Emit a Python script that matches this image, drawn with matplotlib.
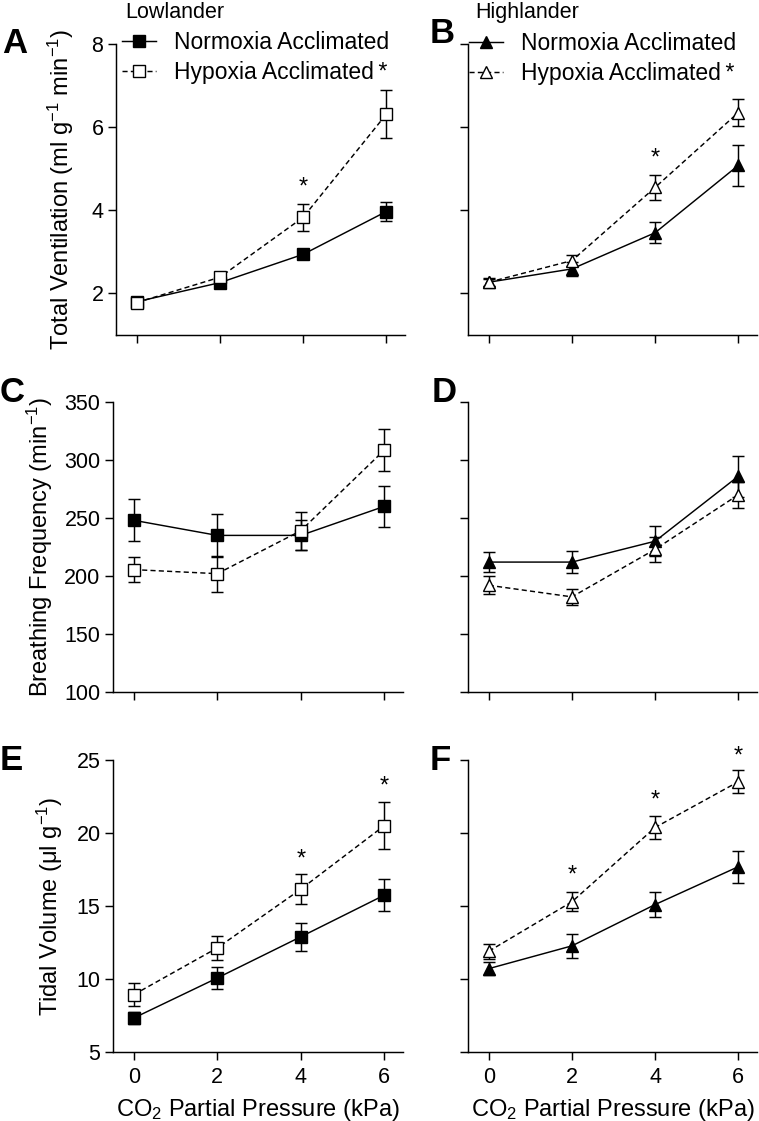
import numpy as np
import matplotlib.pyplot as plt

plt.rcParams['font.family'] = ['Liberation Sans', 'DejaVu Sans']
plt.rcParams['mathtext.fontset'] = 'custom'
plt.rcParams['mathtext.rm'] = 'Liberation Sans'
plt.rcParams['mathtext.it'] = 'Liberation Sans:italic'
plt.rcParams['mathtext.bf'] = 'Liberation Sans:bold'

co2 = [0, 2, 4, 6]

# total ventilation (ml g-1 min-1)
vent_low_norm = [1.80, 2.26, 2.94, 3.97]
vent_low_norm_se = [0.05, 0.10, 0.08, 0.22]
vent_low_hyp = [1.78, 2.39, 3.83, 6.31]
vent_low_hyp_se = [0.05, 0.08, 0.33, 0.58]
vent_high_norm = [2.27, 2.59, 3.46, 5.08]
vent_high_norm_se = [0.08, 0.16, 0.25, 0.50]
vent_high_hyp = [2.27, 2.79, 4.55, 6.35]
vent_high_hyp_se = [0.10, 0.14, 0.31, 0.33]

# breathing frequency (min-1)
freq_low_norm = [248, 235, 235, 260]
freq_low_norm_se = [18, 18.5, 13, 18]
freq_low_hyp = [205.5, 202, 239, 308.5]
freq_low_hyp_se = [11, 15.5, 16.5, 18]
freq_high_norm = [212, 212, 230, 286]
freq_high_norm_se = [8.6, 9.6, 13, 17.5]
freq_high_hyp = [192, 182, 223, 270]
freq_high_hyp_se = [7.6, 7.2, 11, 11]

# tidal volume (ul g-1)
tv_low_norm = [7.33, 10.07, 12.89, 15.74]
tv_low_norm_se = [0.42, 0.78, 0.95, 1.1]
tv_low_hyp = [8.93, 12.13, 16.15, 20.5]
tv_low_hyp_se = [0.77, 0.8, 1.03, 1.62]
tv_high_norm = [10.71, 12.27, 15.1, 17.69]
tv_high_norm_se = [0.47, 0.8, 0.86, 1.1]
tv_high_hyp = [11.9, 15.29, 20.38, 23.51]
tv_high_hyp_se = [0.5, 0.64, 0.8, 0.78]

# asterisks (x, y)
stars_A = [(4, 4.67)]
stars_B = [(4, 5.36)]
stars_E = [(4, 18.5), (6, 23.5)]
stars_F = [(2, 17.39), (4, 22.53), (6, 25.6)]

W, H = 759, 1121
fig = plt.figure(figsize=(W / 100, H / 100), dpi=100)


def px_axes(l, t, r, b):
    return fig.add_axes([l / W, 1 - b / H, (r - l) / W, (b - t) / H])


def panel(ax, y1, e1, y2, e2, marker, ylim, yticks, ylab_on, xlab_on):
    ax.errorbar(co2, y1, yerr=e1, fmt='none', ecolor='black', elinewidth=1.05,
                capsize=4.5, capthick=1.05, zorder=2, clip_on=False)
    ax.plot(co2, y1, '-', color='black', lw=1.05, marker=marker, ms=8.5,
            mfc='black', mec='black', mew=1.0, label='Normoxia Acclimated',
            zorder=3, clip_on=False)
    ax.errorbar(co2, y2, yerr=e2, fmt='none', ecolor='black', elinewidth=1.05,
                capsize=4.5, capthick=1.05, zorder=4, clip_on=False)
    ax.plot(co2, y2, '--', dashes=(3.5, 2.2), color='black', lw=1.05,
            marker=marker, ms=8.5, mfc='white', mec='black', mew=1.0,
            label='Hypoxia Acclimated\u2009*', zorder=5, clip_on=False)
    ax.set_xlim(-0.5, 6.45)
    ax.set_ylim(*ylim)
    ax.set_xticks(co2)
    ax.set_yticks(yticks)
    for s in ['top', 'right']:
        ax.spines[s].set_visible(False)
    for s in ['left', 'bottom']:
        ax.spines[s].set_linewidth(1.05)
    ax.tick_params(axis='both', direction='out', length=6, width=1.05,
                   labelsize=15.5)
    ax.tick_params(axis='y', pad=3)
    ax.tick_params(axis='x', pad=5)
    if not ylab_on:
        ax.set_yticklabels([])
    if not xlab_on:
        ax.set_xticklabels([])
    else:
        ax.set_xlabel('CO$_2$ Partial Pressure (kPa)', fontsize=17, labelpad=6)


def stars(ax, pts):
    for x, y in pts:
        ax.annotate('*', (x, y), xytext=(0, -3.5), textcoords='offset points',
                    ha='center', va='center', fontsize=17,
                    annotation_clip=False)


axA = px_axes(116, 44, 405, 335)
axB = px_axes(468, 44, 757, 335)
axC = px_axes(113, 402, 403, 692)
axD = px_axes(468, 402, 757, 692)
axE = px_axes(113, 760, 403, 1052)
axF = px_axes(468, 760, 757, 1052)

panel(axA, vent_low_norm, vent_low_norm_se, vent_low_hyp, vent_low_hyp_se,
      's', (1, 8), [2, 4, 6, 8], True, False)
panel(axB, vent_high_norm, vent_high_norm_se, vent_high_hyp, vent_high_hyp_se,
      '^', (1, 8), [2, 4, 6, 8], False, False)
panel(axC, freq_low_norm, freq_low_norm_se, freq_low_hyp, freq_low_hyp_se,
      's', (100, 350), [100, 150, 200, 250, 300, 350], True, False)
panel(axD, freq_high_norm, freq_high_norm_se, freq_high_hyp, freq_high_hyp_se,
      '^', (100, 350), [100, 150, 200, 250, 300, 350], False, False)
panel(axE, tv_low_norm, tv_low_norm_se, tv_low_hyp, tv_low_hyp_se,
      's', (5, 25), [5, 10, 15, 20, 25], True, True)
panel(axF, tv_high_norm, tv_high_norm_se, tv_high_hyp, tv_high_hyp_se,
      '^', (5, 25), [5, 10, 15, 20, 25], False, True)

axA.set_ylabel('Total Ventilation (ml g$^{-1}$ min$^{-1}$)', fontsize=17, labelpad=11)
axC.set_ylabel('Breathing Frequency (min$^{-1}$)', fontsize=17, labelpad=7)
axE.set_ylabel('Tidal Volume (\u03bcl g$^{-1}$)', fontsize=17, labelpad=8)

stars(axA, stars_A)
stars(axB, stars_B)
stars(axE, stars_E)
stars(axF, stars_F)

for ax, x0, y0 in [(axA, 122, 31), (axB, 469, 32)]:
    ax.legend(loc='upper left', bbox_to_anchor=(x0 / W, 1 - y0 / H),
              bbox_transform=fig.transFigure, frameon=False, fontsize=16.5,
              handlelength=1.5, handletextpad=0.75, labelspacing=0.3,
              borderaxespad=0, borderpad=0, numpoints=1)

fig.text(125 / W, 1 - 18 / H, 'Lowlander', fontsize=15.5, va='baseline')
fig.text(475 / W, 1 - 18 / H, 'Highlander', fontsize=15.5, va='baseline')

for lab, x, y in [('A', 2, 53), ('B', 430, 43), ('C', 0, 402),
                  ('D', 432, 402), ('E', 0, 770), ('F', 430, 770)]:
    fig.text(x / W, 1 - y / H, lab, fontsize=25, fontweight='bold', va='baseline')

fig.savefig('out.png', dpi=100)
